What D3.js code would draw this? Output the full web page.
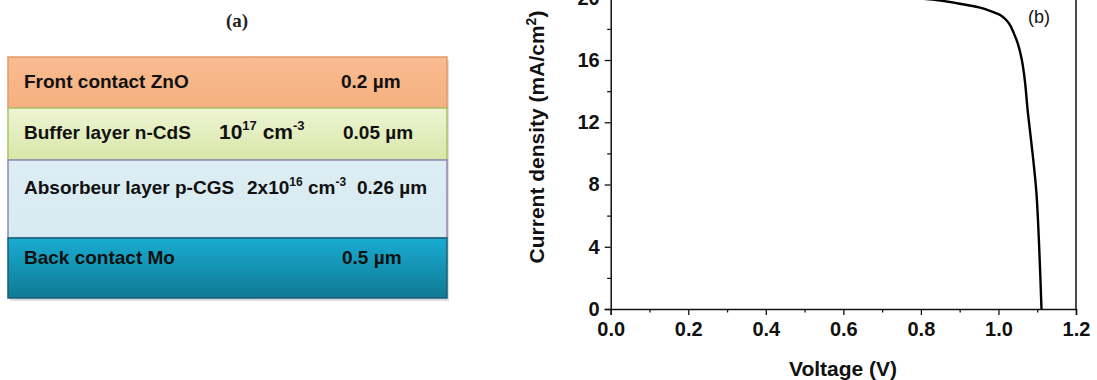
<!DOCTYPE html>
<html>
<head>
<meta charset="utf-8">
<script src="https://cdn.jsdelivr.net/npm/d3@7"></script>
<style>
  body { margin: 0; background: #fff; }
  text { font-family: Arial, "Liberation Sans", sans-serif; }
</style>
</head>
<body>
<div id="fig"></div>
<script>
// ---- data ----
const layerNames = ["Front contact ZnO", "Buffer layer n-CdS", "Absorbeur layer p-CGS", "Back contact Mo"]
const layerThick = ["0.2 µm", "0.05 µm", "0.26 µm", "0.5 µm"]
const layerDopBase = ["", "10", "2x10", ""]
const layerDopExp = ["", "17", "16", ""]

const voltage = [0, 0.2, 0.4, 0.6, 0.7, 0.8, 0.85, 0.9, 0.95, 0.98, 1.0, 1.01, 1.02, 1.03, 1.04, 1.05, 1.06, 1.068, 1.076, 1.088, 1.098, 1.105, 1.111]
const current = [20.3, 20.28, 20.25, 20.18, 20.1, 19.95, 19.82, 19.62, 19.38, 19.15, 18.95, 18.8, 18.57, 18.25, 17.7, 17.05, 16.05, 14.7, 12.6, 10.0, 7.45, 4.0, 0]

const xTicks = [0, 0.2, 0.4, 0.6, 0.8, 1.0, 1.2]
const xMinor = [0.1, 0.3, 0.5, 0.7, 0.9, 1.1]
const yTicks = [0, 4, 8, 12, 16, 20]
const yMinor = [2, 6, 10, 14, 18, 22]

// ---- layout ----
const W = 1097, H = 380

const svg = d3.select('#fig')
    .append('svg')
    .attr('width', W)
    .attr('height', H)

const defs = svg.append('defs')
const grad = (id, c0, c1) => {
    let g = defs.append('linearGradient').attr('id', id)
        .attr('x1', 0).attr('y1', 0).attr('x2', 0).attr('y2', 1)
    g.append('stop').attr('offset', '0%').attr('stop-color', c0)
    g.append('stop').attr('offset', '100%').attr('stop-color', c1)
}
grad('gFront', '#f9bc90', '#f5b080')
grad('gBuf', '#eef4d4', '#d8e7a8')
grad('gAbs', '#dcedf3', '#d8ebf2')
grad('gBack', '#18acd2', '#107a94')

// panel (a) - layer stack
const stackX = 8, stackW = 439
const layerTop = [57, 108, 160, 238]
const layerH = [51, 52, 78, 60]
const layerFill = ['url(#gFront)', 'url(#gBuf)', 'url(#gAbs)', 'url(#gBack)']
const layerEdge = ['#e39a66', '#a9c46a', '#8f86b8', '#1b5e78']

svg.append('text')
    .attr('x', 237).attr('y', 27)
    .attr('text-anchor', 'middle')
    .style('font-family', '"Liberation Serif", "DejaVu Serif", serif')
    .style('font-weight', 'bold')
    .style('font-size', '19px')
    .style('fill', '#222')
    .text('(a)')

// soft shadow under the stack
svg.append('rect')
    .attr('x', stackX + 2).attr('y', layerTop[0] + 3)
    .attr('width', stackW).attr('height', layerTop[3] + layerH[3] - layerTop[0])
    .style('fill', '#c8c8c8')
    .style('opacity', 0.6)

const layers = svg.append('g').selectAll('g')
    .data(layerNames)
    .join('g')

layers.append('rect')
    .attr('x', stackX)
    .attr('y', (d, i) => layerTop[i])
    .attr('width', stackW)
    .attr('height', (d, i) => layerH[i])
    .style('fill', (d, i) => layerFill[i])
    .style('stroke', (d, i) => layerEdge[i])
    .style('stroke-width', 1.5)

const rowBase = [88, 139, 194, 264]
const thickX = [341, 343, 357, 342]
const dopX = [0, 219, 247, 0]

layers.append('text')
    .attr('x', 24)
    .attr('y', (d, i) => rowBase[i])
    .style('font-weight', 'bold')
    .style('font-size', '19px')
    .style('fill', '#111')
    .text(d => d)

layers.append('text')
    .attr('x', (d, i) => thickX[i])
    .attr('y', (d, i) => rowBase[i])
    .style('font-weight', 'bold')
    .style('font-size', '19px')
    .style('fill', '#111')
    .text((d, i) => layerThick[i])

layers.filter((d, i) => layerDopBase[i] !== '')
    .append('text')
    .attr('x', d => dopX[layerNames.indexOf(d)])
    .attr('y', d => rowBase[layerNames.indexOf(d)])
    .style('font-weight', 'bold')
    .style('font-size', d => layerNames.indexOf(d) === 1 ? '21px' : '19px')
    .style('fill', '#111')
    .each(function (d) {
        const i = layerNames.indexOf(d)
        const t = d3.select(this)
        const small = i === 1 ? '13px' : '12px'
        const up = i === 1 ? -9 : -8
        t.append('tspan').text(layerDopBase[i])
        t.append('tspan').attr('dy', up).style('font-size', small).text(layerDopExp[i])
        t.append('tspan').attr('dy', -up).text(' cm')
        t.append('tspan').attr('dy', up).style('font-size', small).text('-3')
    })

// panel (b) - J-V curve
const x0 = 610.7, x1 = 1076, y0 = 309, pxPerUnit = 15.56

const x = d3.scaleLinear().domain([0, 1.2]).range([x0, x1])
const y = d3.scaleLinear().domain([0, 24]).range([y0, y0 - 24 * pxPerUnit])

svg.append('g')
    .attr('transform', `translate(0,${y0})`)
    .call(d3.axisBottom(x).tickValues(xTicks).tickFormat(d3.format('.1f')).tickSizeOuter(0).tickSize(6).tickPadding(7))
svg.append('g')
    .attr('transform', `translate(0,${y0})`)
    .call(d3.axisBottom(x).tickValues(xMinor).tickFormat('').tickSizeOuter(0).tickSize(3.5))
    .call(g => g.select('.domain').remove())

svg.append('g')
    .attr('transform', `translate(${x0},0)`)
    .call(d3.axisLeft(y).tickValues(yTicks).tickSizeOuter(0).tickSize(6).tickPadding(5))
svg.append('g')
    .attr('transform', `translate(${x0},0)`)
    .call(d3.axisLeft(y).tickValues(yMinor).tickFormat('').tickSizeOuter(0).tickSize(3.5))
    .call(g => g.select('.domain').remove())

svg.selectAll('.domain').style('stroke', '#111').style('stroke-width', 1.5)
svg.selectAll('.tick line').style('stroke', '#111').style('stroke-width', 1.3)
svg.selectAll('.tick text')
    .style('font-family', 'Arial, "Liberation Sans", sans-serif')
    .style('font-weight', 'bold')
    .style('font-size', '20px')
    .style('fill', '#111')

// right frame edge
svg.append('line')
    .attr('x1', x(1.2)).attr('x2', x(1.2))
    .attr('y1', y(24)).attr('y2', y(0))
    .style('stroke', '#111').style('stroke-width', 1.5)

const line = d3.line()
    .x((d, i) => x(voltage[i]))
    .y((d, i) => y(current[i]))
    .curve(d3.curveCatmullRom.alpha(0.5))

svg.append('path')
    .datum(current)
    .attr('d', line)
    .style('fill', 'none')
    .style('stroke', '#000')
    .style('stroke-width', 2.4)

svg.append('text')
    .attr('x', 1028).attr('y', 23)
    .style('font-size', '18px')
    .style('fill', '#111')
    .text('(b)')

svg.append('text')
    .attr('x', 843).attr('y', 376)
    .attr('text-anchor', 'middle')
    .style('font-weight', 'bold')
    .style('font-size', '21px')
    .style('fill', '#111')
    .text('Voltage (V)')

const yl = svg.append('text')
    .attr('transform', 'translate(544,137) rotate(-90)')
    .attr('text-anchor', 'middle')
    .style('font-weight', 'bold')
    .style('font-size', '21px')
    .style('fill', '#111')
yl.append('tspan').text('Current density (mA/cm')
yl.append('tspan').attr('dy', -8).style('font-size', '14px').text('2')
yl.append('tspan').attr('dy', 8).text(')')
</script>
</body>
</html>
